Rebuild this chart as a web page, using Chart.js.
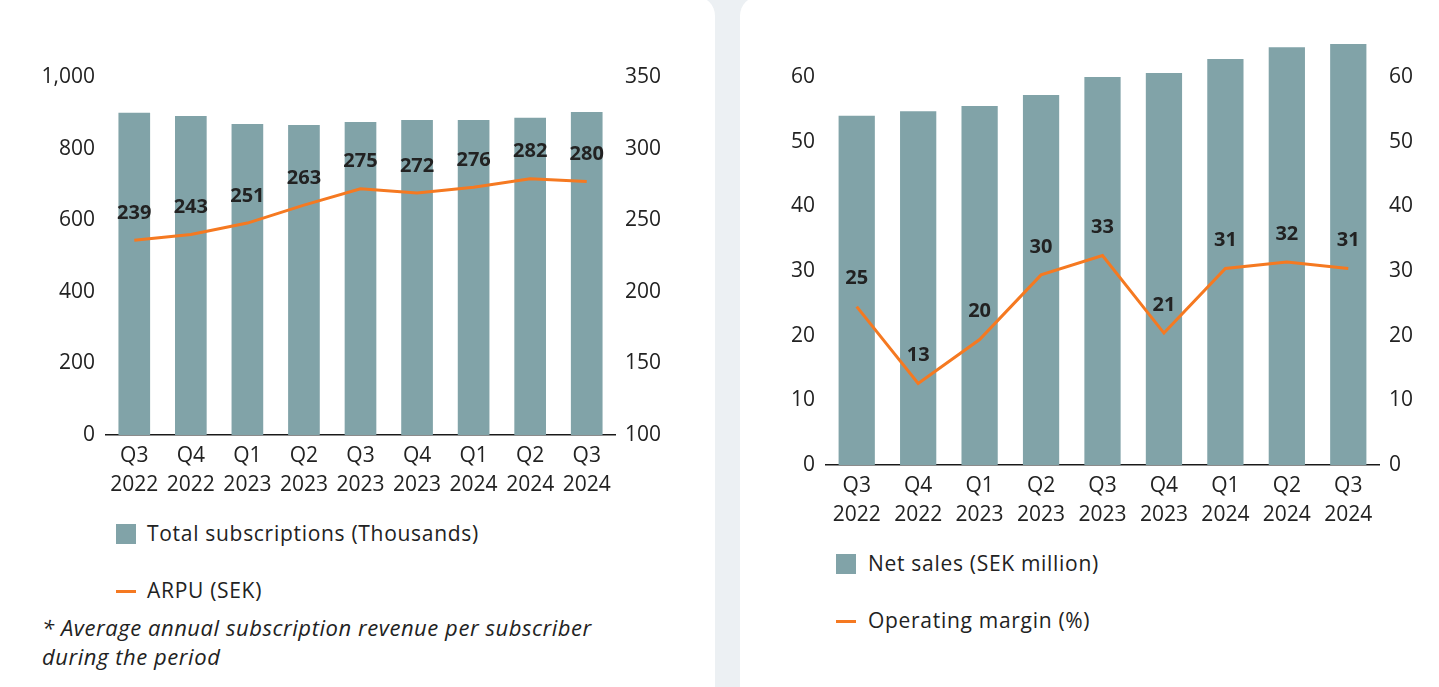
<!DOCTYPE html>
<html>
<head>
<meta charset="utf-8">
<script src="https://cdn.jsdelivr.net/npm/chart.js@4.4.1/dist/chart.umd.min.js"></script>
<style>
  html, body { margin: 0; padding: 0; }
  body { width: 1439px; height: 687px; background: #ecf0f3; position: relative; overflow: hidden; font-family: "Open Sans", sans-serif; color: #222; }
  .panel { position: absolute; top: -4px; bottom: -30px; background: #fff; border-radius: 20px; }
  #leftPanel { left: -30px; width: 745px; }
  #rightPanel { left: 740px; width: 730px; }
  canvas { position: absolute; top: 0; }
  #left { left: 0; }
  #right { left: 740px; }
  .box { position: absolute; width: 20px; height: 20px; background: #81a3a8; }
  .dash { position: absolute; width: 20px; height: 3px; background: #f57921; }
  .txt { position: absolute; font-size: 21px; line-height: 28px; letter-spacing: 0.7px; white-space: nowrap; }
  .note { position: absolute; left: 42px; top: 613px; font-size: 22px; line-height: 29px; letter-spacing: 0.55px; font-style: italic; white-space: nowrap; }
</style>
</head>
<body>
<div class="panel" id="leftPanel"></div>
<div class="panel" id="rightPanel"></div>
<canvas id="left" width="715" height="500" style="width:715px;height:500px"></canvas>
<canvas id="right" width="699" height="530" style="width:699px;height:530px"></canvas>

<div class="box" style="left:116px;top:524px"></div>
<div class="txt" style="left:147px;top:519px">Total subscriptions (Thousands)</div>
<div class="dash" style="left:116px;top:590px"></div>
<div class="txt" style="left:147px;top:576px">ARPU (SEK)</div>
<div class="note">* Average annual subscription revenue per subscriber<br>during the period</div>

<div class="box" style="left:836px;top:554px"></div>
<div class="txt" style="left:868px;top:549px">Net sales (SEK million)</div>
<div class="dash" style="left:836px;top:620px"></div>
<div class="txt" style="left:868px;top:606px">Operating margin (%)</div>

<script>
const quarters = [['Q3', '2022'], ['Q4', '2022'], ['Q1', '2023'], ['Q2', '2023'], ['Q3', '2023'], ['Q4', '2023'], ['Q1', '2024'], ['Q2', '2024'], ['Q3', '2024']];

const subscriptions = [900, 891, 869, 866, 874, 880, 880, 886, 902];
const arpu = [236, 240, 248, 260.5, 272, 269, 273, 279, 277];
const arpuLabels = ['239', '243', '251', '263', '275', '272', '276', '282', '280'];

const netSales = [54.0, 54.7, 55.5, 57.2, 60.0, 60.6, 62.8, 64.6, 65.1];
const margin = [24.5, 12.6, 19.4, 29.4, 32.4, 20.4, 30.4, 31.4, 30.4];
const marginLabels = ['25', '13', '20', '30', '33', '21', '31', '32', '31'];

const barColor = '#81a3a8';
const lineColor = '#f57921';
const textColor = '#222';
const fontFamily = '"Open Sans", sans-serif';

const pointLabels = {
    id: 'pointLabels',
    afterDatasetsDraw(chart, args, opts) {
        const ctx = chart.ctx;
        const meta = chart.getDatasetMeta(0);
        ctx.save();
        ctx.font = 'bold 20px ' + fontFamily;
        ctx.fillStyle = textColor;
        ctx.textAlign = 'center';
        ctx.textBaseline = 'middle';
        meta.data.forEach((pt, i) => {
            ctx.fillText(opts.labels[i], pt.x, pt.y - opts.offset);
        });
        ctx.restore();
    }
};

function makeChart(id, bars, line, labels, cfg) {
    const tickFont = { family: fontFamily, size: 21 };
    return new Chart(document.getElementById(id), {
        type: 'bar',
        data: {
            labels: quarters,
            datasets: [{
                type: 'line',
                data: line,
                yAxisID: 'y1',
                borderColor: lineColor,
                borderWidth: 3,
                pointRadius: 0,
                tension: 0,
                order: 0
            }, {
                type: 'bar',
                data: bars,
                yAxisID: 'y',
                backgroundColor: barColor,
                barPercentage: cfg.barPct,
                categoryPercentage: 1,
                clip: false,
                order: 1
            }]
        },
        options: {
            responsive: false,
            animation: false,
            layout: { padding: { top: 77, left: 0, right: 0, bottom: 0 } },
            plugins: {
                legend: { display: false },
                tooltip: { enabled: false },
                pointLabels: { labels: labels, offset: cfg.offset }
            },
            scales: {
                x: {
                    grid: { display: false, drawTicks: false },
                    border: { display: true, color: '#1a1a1a', width: 1.5 },
                    ticks: { color: textColor, font: { family: fontFamily, size: 21, lineHeight: 1.4 }, padding: 6, maxRotation: 0, autoSkip: false },
                    afterFit: s => { s.height = 65; }
                },
                y: {
                    position: 'left',
                    min: cfg.yMin, max: cfg.yMax,
                    grid: { display: false, drawTicks: false },
                    border: { display: false },
                    ticks: { stepSize: cfg.yStep, color: textColor, font: tickFont, padding: 11,
                             callback: v => v.toLocaleString('en-US') },
                    afterFit: s => { s.width = cfg.leftW; }
                },
                y1: {
                    position: 'right',
                    min: cfg.y1Min, max: cfg.y1Max,
                    grid: { display: false, drawTicks: false },
                    border: { display: false },
                    ticks: { stepSize: cfg.y1Step, color: textColor, font: tickFont, padding: 10 },
                    afterFit: s => { s.width = cfg.rightW; }
                }
            }
        },
        plugins: [pointLabels]
    });
}

makeChart('left', subscriptions, arpu, arpuLabels, {
    barPct: 0.56, offset: 27,
    yMin: 0, yMax: 1000, yStep: 200,
    y1Min: 100, y1Max: 350, y1Step: 50,
    leftW: 106, rightW: 100
});

makeChart('right', netSales, margin, marginLabels, {
    barPct: 0.59, offset: 28,
    yMin: 0, yMax: 60, yStep: 10,
    y1Min: 0, y1Max: 60, y1Step: 10,
    leftW: 86, rightW: 60
});
</script>
</body>
</html>
